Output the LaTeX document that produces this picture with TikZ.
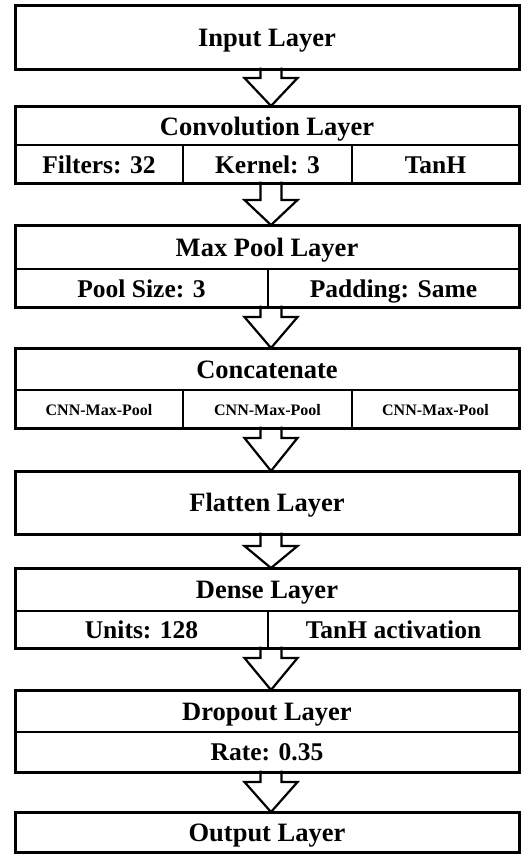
\documentclass[tikz,border=0pt]{standalone}
\usepackage{fontspec}
\setmainfont{Liberation Serif}
\usetikzlibrary{calc}
\newcommand\blockarrow[3]{%
  \draw[arr] ($(#1.south -| ax)+(-10.5,-1.5)$) -- ($(#1.south -| ax)+(-10.5,#3)$)
    -- ($(#1.south -| ax)+(-26.5,#3)$) -- (#2.north -| ax)
    -- ($(#1.south -| ax)+(26.5,#3)$) -- ($(#1.south -| ax)+(10.5,#3)$)
    -- ($(#1.south -| ax)+(10.5,-1.5)$);}
\begin{document}
\begin{tikzpicture}[x=1pt,y=-1pt,
  base/.style={inner sep=0pt, outer sep=0pt, text height=18pt, text depth=0pt},
  ttl/.style={base, font=\bfseries\fontsize{26.5}{30}\selectfont},
  sub/.style={base, draw, line width=1.8pt, font=\bfseries\fontsize{25.5}{29}\selectfont},
  tcell/.style={ttl, draw, line width=1.8pt},
  single/.style={ttl, draw, line width=3pt},
  cnn/.style={sub, font=\bfseries\fontsize{16}{19}\selectfont, text height=13.4pt},
  outer/.style={draw, line width=3pt},
  arr/.style={draw, line width=2.2pt, line join=miter}
]
\useasboundingbox (0,0) rectangle (532,857);
\coordinate (ax) at (271,0);

% Input
\node[single, minimum width=504pt, minimum height=64pt] (in) at (267,37) {Input Layer};

% Convolution
\node[tcell, minimum width=504pt, minimum height=39pt, text height=20pt] (conv) at (267,125.5) {Convolution Layer};
\node[sub, minimum width=168pt, minimum height=38pt] (conv1) at (99,164) {Filters: 32};
\node[sub, minimum width=169pt, minimum height=38pt] (conv2) at (267.5,164) {Kernel: 3};
\node[sub, minimum width=167pt, minimum height=38pt] (conv3) at (435.5,164) {TanH};
\draw[outer] (conv.north west) rectangle (conv3.south east);

% Max pool
\node[tcell, minimum width=504pt, minimum height=44pt] (pool) at (267,247) {Max Pool Layer};
\node[sub, minimum width=253pt, minimum height=38pt] (pool1) at (141.5,288) {Pool Size: 3};
\node[sub, minimum width=251pt, minimum height=38pt] (pool2) at (393.5,288) {Padding: Same};
\draw[outer] (pool.north west) rectangle (pool2.south east);

% Concatenate
\node[tcell, minimum width=504pt, minimum height=42pt] (cat) at (267,369) {Concatenate};
\node[cnn, minimum width=168pt, minimum height=38pt] (cat1) at (99,409) {CNN-Max-Pool};
\node[cnn, minimum width=169pt, minimum height=38pt] (cat2) at (267.5,409) {CNN-Max-Pool};
\node[cnn, minimum width=167pt, minimum height=38pt] (cat3) at (435.5,409) {CNN-Max-Pool};
\draw[outer] (cat.north west) rectangle (cat3.south east);

% Flatten
\node[single, minimum width=504pt, minimum height=63pt] (flat) at (267,502.5) {Flatten Layer};

% Dense
\node[tcell, minimum width=504pt, minimum height=43pt] (dense) at (267,589.5) {Dense Layer};
\node[sub, minimum width=253pt, minimum height=37pt] (dense1) at (141.5,629.5) {Units: 128};
\node[sub, minimum width=251pt, minimum height=37pt] (dense2) at (393.5,629.5) {TanH activation};
\draw[outer] (dense.north west) rectangle (dense2.south east);

% Dropout
\node[tcell, minimum width=504pt, minimum height=42pt] (drop) at (267,711) {Dropout Layer};
\node[sub, minimum width=504pt, minimum height=40pt, text height=16pt] (rate) at (267,752) {Rate: 0.35};
\draw[outer] (drop.north west) rectangle (rate.south east);

% Output
\node[single, minimum width=504pt, minimum height=40pt, text height=19pt] (out) at (267,832) {Output Layer};

% Arrows
\blockarrow{in}{conv}{9}
\blockarrow{conv2}{pool}{17}
\blockarrow{pool2}{cat}{10}
\blockarrow{cat2}{flat}{10}
\blockarrow{flat}{dense}{12}
\blockarrow{dense2}{drop}{10}
\blockarrow{rate}{out}{10}
\end{tikzpicture}
\end{document}
